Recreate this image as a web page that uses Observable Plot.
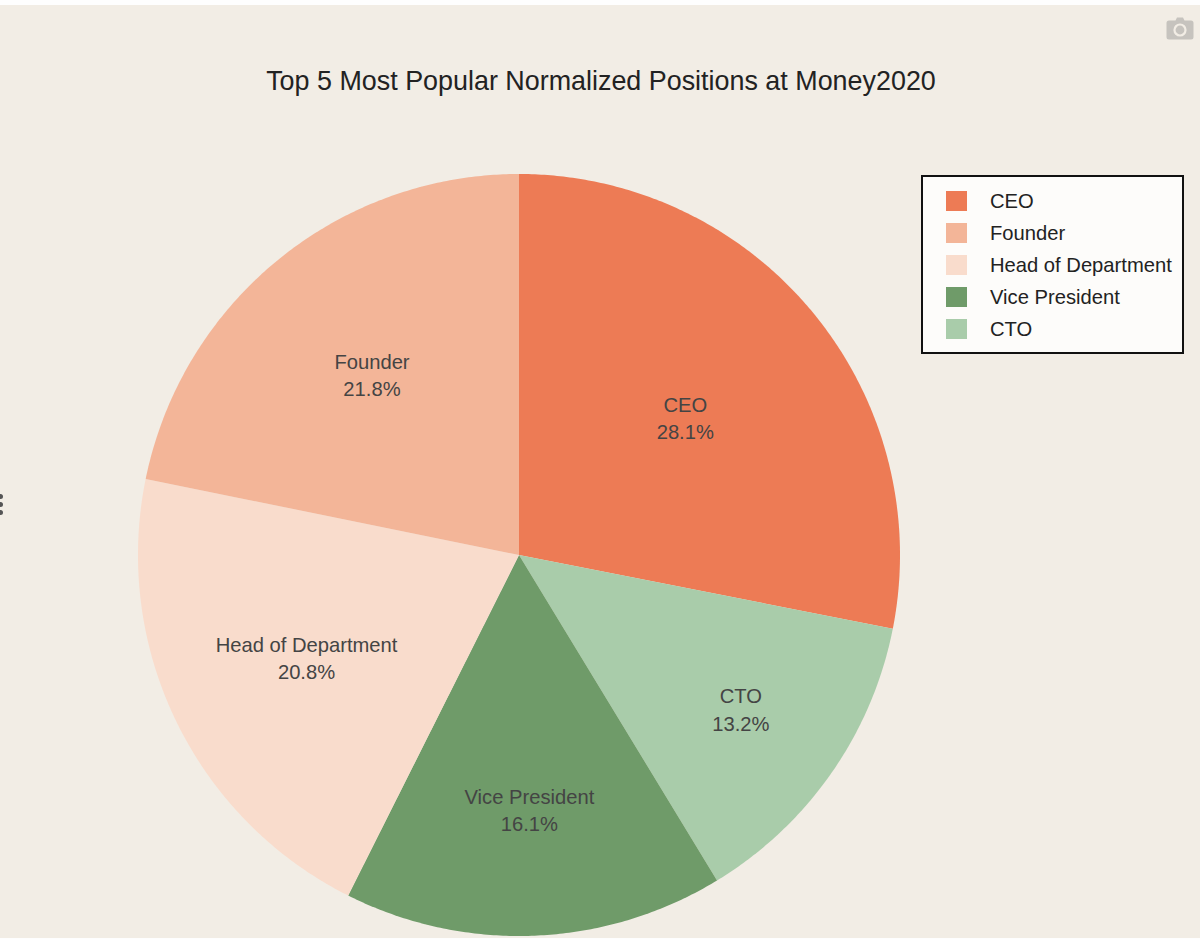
<!DOCTYPE html>
<html>
<head>
<meta charset="utf-8">
<script src="https://cdn.jsdelivr.net/npm/d3@7"></script>
<script src="https://cdn.jsdelivr.net/npm/@observablehq/plot@0.6"></script>
<style>
  html, body { margin: 0; padding: 0; background: #fefefe; }
  #page { position: relative; width: 1200px; height: 939px; overflow: hidden; font-family: "Liberation Sans", Arial, sans-serif; }
  #bg { position: absolute; left: 0; top: 5px; width: 1200px; height: 933px; background: #f2ede5; }
  #chart { position: absolute; left: 0; top: 0; }
  #chart svg { display: block; background: transparent; }
  h1 { position: absolute; left: 0; width: 1202px; top: 66px; margin: 0; text-align: center; font-weight: 400; font-size: 26.9px; line-height: 30px; color: #222; }
  #legend { position: absolute; left: 921px; top: 175px; width: 259px; height: 175px; border: 2px solid #111; background: #fdfcfa; }
  .row { position: absolute; left: 0; height: 32px; width: 100%; }
  .sw { position: absolute; left: 23px; top: 4px; width: 21px; height: 20px; }
  .lb { position: absolute; left: 67px; top: -1.5px; line-height: 30px; font-size: 20.2px; color: #222; white-space: nowrap; }
  #cam { position: absolute; left: 1166px; top: 17px; }
  .dot { position: absolute; left: -2.5px; width: 5px; height: 5px; border-radius: 50%; background: #555; }
</style>
</head>
<body>
<div id="page">
  <div id="bg"></div>
  <div id="chart"></div>
  <h1>Top 5 Most Popular Normalized Positions at Money2020</h1>
  <div id="legend"></div>
  <svg id="cam" width="28" height="23" viewBox="0 0 28 23">
    <path fill="#c6c3be" d="M3 3.5h6.5L11 .5h6l1.5 3H25a2.5 2.5 0 0 1 2.5 2.5v14a2.5 2.5 0 0 1-2.5 2.5H3A2.5 2.5 0 0 1 .5 20V6A2.5 2.5 0 0 1 3 3.5z"/>
    <circle cx="14" cy="13" r="6.6" fill="#f2ede5"/>
    <circle cx="14" cy="13" r="4.4" fill="#c6c3be"/>
  </svg>
  <div class="dot" style="top:493.5px"></div>
  <div class="dot" style="top:501.5px"></div>
  <div class="dot" style="top:509.5px"></div>
</div>
<script>
// Slices in clockwise drawing order, starting from twelve o'clock
const categories = ["CEO", "CTO", "Vice President", "Head of Department", "Founder"];
const shares = [28.1, 13.2, 16.1, 20.8, 21.8];
const colors = ["#ed7b55", "#a9ccaa", "#6f9b69", "#f9dccc", "#f3b598"];

// Legend order
const legendOrder = ["CEO", "Founder", "Head of Department", "Vice President", "CTO"];

// How far out (fraction of the radius) each inside label sits
const labelRadius = [0.565, 0.71, 0.67, 0.62, 0.61];

const total = d3.sum(shares);
const pie = d3.pie().sort(null).value(d => d)(shares);

// Geometry of the slices, in unit-circle coordinates
const outline = pie.flatMap((p, i) => {
  const n = Math.max(2, Math.ceil((p.endAngle - p.startAngle) * 120));
  const rim = d3.range(n + 1).map(k => {
    const a = p.startAngle + (p.endAngle - p.startAngle) * k / n;
    return { category: categories[i], x: Math.sin(a), y: Math.cos(a) };
  });
  const hub = { category: categories[i], x: 0, y: 0 };
  return [hub, ...rim, hub];
});

const labels = pie.map((p, i) => {
  const a = (p.startAngle + p.endAngle) / 2;
  return {
    text: `${categories[i]}\n${(shares[i] / total * 100).toFixed(1)}%`,
    x: labelRadius[i] * Math.sin(a),
    y: labelRadius[i] * Math.cos(a)
  };
});

const plot = Plot.plot({
  width: 1200,
  height: 939,
  margin: 0,
  style: { background: "transparent", fontFamily: '"Liberation Sans", Arial, sans-serif' },
  x: { domain: [-1, 1], range: [137.5, 899.5], axis: null },
  y: { domain: [-1, 1], range: [935.5, 173.5], axis: null },
  color: { domain: categories, range: colors },
  marks: [
    Plot.line(outline, {
      x: "x", y: "y", z: "category",
      fill: "category", stroke: null, curve: "linear"
    }),
    Plot.text(labels, {
      x: "x", y: "y", text: "text", dx: 0, dy: -1.5,
      fontSize: 20.2, lineHeight: 1.34, fill: "#444", textAnchor: "middle"
    })
  ]
});
document.getElementById("chart").appendChild(plot);

const legend = d3.select("#legend");
const colorOf = new Map(categories.map((c, i) => [c, colors[i]]));
legendOrder.forEach((c, i) => {
  const row = legend.append("div").attr("class", "row").style("top", `${10 + 32 * i}px`);
  row.append("div").attr("class", "sw").style("background", colorOf.get(c));
  row.append("div").attr("class", "lb").text(c);
});
</script>
</body>
</html>
